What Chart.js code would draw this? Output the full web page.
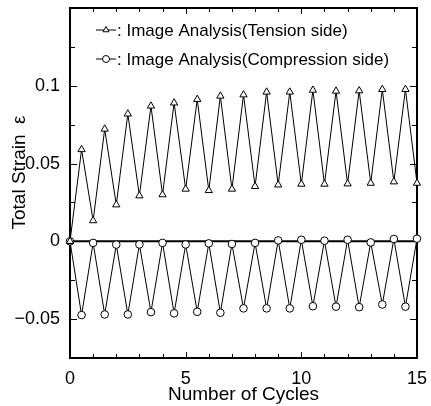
<!DOCTYPE html>
<html><head><meta charset="utf-8">
<script src="https://cdn.jsdelivr.net/npm/chart.js@4/dist/chart.umd.min.js"></script>
<style>html,body{margin:0;padding:0;background:#fff;} #wrap{width:431px;height:406px;}</style>
</head><body><div id="wrap"><canvas id="c" width="431" height="406"></canvas></div>
<script>
const cycles = [0,0.5,1,1.5,2,2.5,3,3.5,4,4.5,5,5.5,6,6.5,7,7.5,8,8.5,9,9.5,10,10.5,11,11.5,12,12.5,13,13.5,14,14.5,15];
const tensionStrain = [0,0.059,0.0133,0.0722,0.0235,0.0819,0.0293,0.087,0.030,0.089,0.0336,0.0913,0.0327,0.0934,0.0336,0.0942,0.0353,0.096,0.0363,0.096,0.0368,0.0972,0.0368,0.0966,0.037,0.0968,0.0374,0.0977,0.0383,0.0977,0.0374];
const compressionStrain = [0,-0.0474,-0.001,-0.047,-0.0021,-0.047,-0.002,-0.0455,-0.001,-0.0463,-0.002,-0.0453,-0.0013,-0.0459,-0.0017,-0.0431,-0.001,-0.0431,0.0006,-0.0431,0.001,-0.0417,0.0004,-0.042,0.001,-0.0423,-0.0007,-0.0406,0.0015,-0.042,0.0017];
const xTickLabels = [0,5,10,15];
const yTickLabels = [-0.05,0,0.05,0.1];
const seriesNames = ['Image Analysis(Tension side)','Image Analysis(Compression side)'];
const xTitle = 'Number of Cycles';
const yTitle = '\u00a0\u00a0\u00a0\u00a0Total Strain  \u03b5';

const FONT = '"Liberation Sans", Arial, sans-serif';

function fmtY(v){
  if (Math.abs(v) < 1e-9) return '0';
  const s = String(+v.toFixed(3));
  return v < 0 ? '\u2212' + s.slice(1) : s;
}

const framePlugin = {
  id: 'frame',
  beforeDatasetsDraw(chart){
    const {ctx, chartArea: a, scales} = chart;
    ctx.save();
    ctx.strokeStyle = '#000';
    const y0 = scales.y.getPixelForValue(0);
    ctx.lineWidth = 2;
    ctx.beginPath(); ctx.moveTo(a.left, y0); ctx.lineTo(a.right, y0); ctx.stroke();
    ctx.strokeRect(a.left, a.top, a.right - a.left, a.bottom - a.top);
    ctx.lineWidth = 1;
    ctx.beginPath();
    for (let v = scales.y.min; v <= scales.y.max + 1e-9; v += 0.025) {
      const y = Math.round(scales.y.getPixelForValue(v)) + 0.5;
      const major = Math.abs(v / 0.05 - Math.round(v / 0.05)) < 1e-6;
      const len = major ? 7 : 5;
      ctx.moveTo(a.left, y); ctx.lineTo(a.left + len, y);
      ctx.moveTo(a.right, y); ctx.lineTo(a.right - len, y);
    }
    for (let v = scales.x.min; v <= scales.x.max + 1e-9; v += 1) {
      const x = Math.round(scales.x.getPixelForValue(v)) + 0.5;
      const major = v % 5 === 0;
      const len = major ? 6 : 4;
      ctx.moveTo(x, a.bottom); ctx.lineTo(x, a.bottom - len);
      ctx.moveTo(x, a.top); ctx.lineTo(x, a.top + len);
    }
    ctx.stroke();
    ctx.restore();
  },
  afterDraw(chart){
    const {ctx} = chart;
    ctx.save();
    ctx.font = '17px ' + FONT;
    ctx.textBaseline = 'alphabetic';
    const rows = [36, 65];
    chart.data.datasets.forEach((ds, i) => {
      const base = rows[i];
      const cy = base - 6;
      ctx.strokeStyle = '#000';
      ctx.lineWidth = 1;
      ctx.beginPath(); ctx.moveTo(96, cy); ctx.lineTo(116, cy); ctx.stroke();
      ctx.fillStyle = '#fff';
      Chart.helpers.drawPoint(ctx, {pointStyle: ds.pointStyle, radius: 3.5, borderWidth: 1}, 106, cy);
      ctx.fillStyle = '#000';
      ctx.fillText(': ' + ds.label, 117, base);
    });
    ctx.restore();
  }
};

new Chart(document.getElementById('c'), {
  type: 'line',
  data: {
    datasets: [
      {
        label: seriesNames[0],
        data: cycles.map((c, i) => ({x: c, y: tensionStrain[i]})),
        pointStyle: 'triangle',
        borderColor: '#000', borderWidth: 1,
        pointRadius: 4.2, pointBorderWidth: 1,
        pointBackgroundColor: '#fff', pointBorderColor: '#000',
        tension: 0, clip: false
      },
      {
        label: seriesNames[1],
        data: cycles.map((c, i) => ({x: c, y: compressionStrain[i]})),
        pointStyle: 'circle',
        borderColor: '#000', borderWidth: 1,
        pointRadius: 3.8, pointBorderWidth: 1,
        pointBackgroundColor: '#fff', pointBorderColor: '#000',
        tension: 0, clip: false
      }
    ]
  },
  options: {
    responsive: false,
    devicePixelRatio: 1,
    animation: false,
    layout: {padding: {left: 0, right: 14, top: 8, bottom: 0}},
    plugins: {legend: {display: false}, tooltip: {enabled: false}},
    scales: {
      x: {
        type: 'linear', min: 0, max: 15,
        grid: {display: false}, border: {display: false},
        ticks: {
          stepSize: 1, autoSkip: false, maxRotation: 0, color: '#000', padding: 2,
          font: {family: FONT, size: 18},
          callback: v => xTickLabels.includes(v) ? String(v) : ''
        },
        title: {display: true, text: xTitle, color: '#000', font: {family: FONT, size: 19}, padding: {top: 0, bottom: 0}},
        afterFit: s => { s.height = 48; s.paddingLeft = 0; s.paddingRight = 0; }
      },
      y: {
        min: -0.075, max: 0.15,
        grid: {display: false}, border: {display: false},
        ticks: {
          stepSize: 0.025, autoSkip: false, color: '#000', padding: 2,
          font: {family: FONT, size: 18},
          callback: v => {
            const hit = yTickLabels.find(t => Math.abs(t - v) < 1e-6);
            return hit === undefined ? '' : fmtY(hit);
          }
        },
        title: {display: true, text: yTitle, color: '#000', font: {family: FONT, size: 19}, padding: {top: 8, bottom: 0}},
        afterFit: s => { s.width = 70; s.paddingTop = 0; s.paddingBottom = 0; }
      }
    }
  },
  plugins: [framePlugin]
});
</script></body></html>
